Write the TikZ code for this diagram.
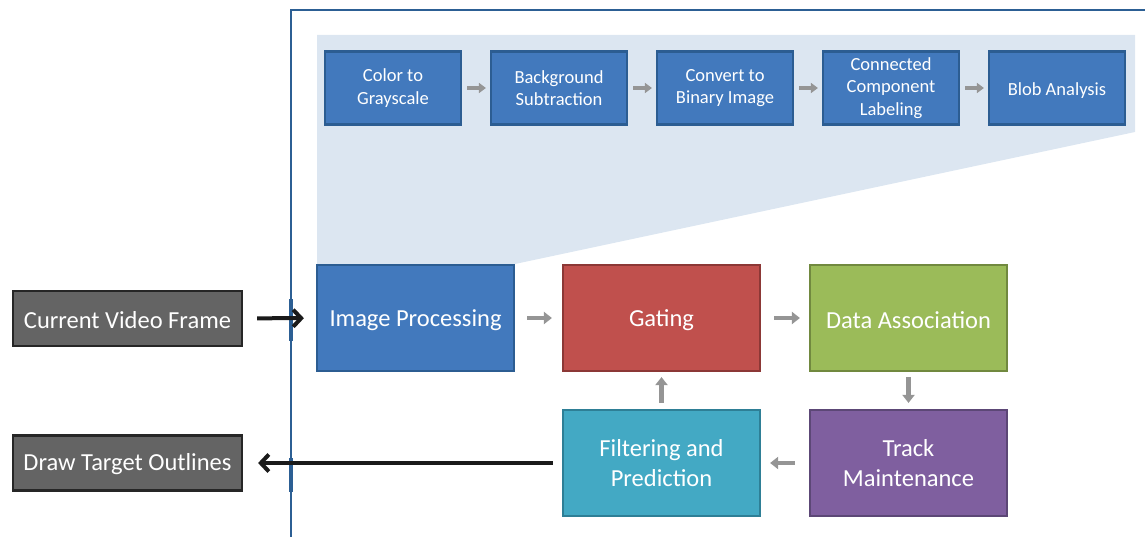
\documentclass[tikz,border=0pt]{standalone}
\usepackage{fontspec}
\setmainfont{Carlito}
\usetikzlibrary{arrows.meta}
\definecolor{frameblue}{HTML}{2C5F94}
\definecolor{regionblue}{HTML}{DCE6F1}
\definecolor{bluefill}{HTML}{4279BD}
\definecolor{blueline}{HTML}{2C5D92}
\definecolor{redfill}{HTML}{C0504D}
\definecolor{redline}{HTML}{8C3836}
\definecolor{greenfill}{HTML}{9BBB59}
\definecolor{greenline}{HTML}{71893F}
\definecolor{purplefill}{HTML}{7F5F9F}
\definecolor{purpleline}{HTML}{5C4776}
\definecolor{cyanfill}{HTML}{43A9C4}
\definecolor{cyanline}{HTML}{2E7F96}
\definecolor{darkfill}{HTML}{646464}
\definecolor{darkline}{HTML}{262626}
\definecolor{greyarrow}{HTML}{959595}
\definecolor{blackarrow}{HTML}{1A1A1A}
\tikzset{
  smallbox/.style={draw=blueline, fill=bluefill, line width=2.2pt, minimum width=136pt, minimum height=73pt,
    text=white, align=center, inner sep=0pt, font=\fontsize{18.5}{22.5}\selectfont,
    execute at begin node={\rule{0pt}{0.94em}}},
  bigbox/.style={line width=2.2pt, minimum width=197pt, minimum height=106pt,
    text=white, align=center, inner sep=0pt, font=\fontsize{24.5}{29.5}\selectfont,
    execute at begin node={\rule{0pt}{0.9em}}},
  sidebox/.style={draw=darkline, fill=darkfill, line width=2.2pt, minimum width=229pt, minimum height=55pt,
    text=white, align=center, inner sep=0pt, font=\fontsize{24.5}{29.5}\selectfont,
    execute at begin node={\rule{0pt}{0.8em}}},
  greyarr/.style={draw=greyarrow, line width=4.5pt, -{Triangle[length=8pt,width=12pt]}},
  smallarr/.style={draw=greyarrow, line width=3.8pt, -{Triangle[length=7pt,width=10pt]}},
  blackarr/.style={draw=blackarrow, line width=4pt, -{Straight Barb[length=8pt,width=17pt,line width=4pt]}},
}
\begin{document}
\begin{tikzpicture}[x=1pt,y=-1pt]
\useasboundingbox (0,0) rectangle (1145,537);
% light region
\fill[regionblue] (317,35) -- (1135,35) -- (1135,132) -- (515,264) -- (317,264) -- cycle;
% frame
\draw[frameblue, line width=2.4pt] (291,545) -- (291,10) -- (1150,10);
\draw[frameblue, line width=4pt] (291,299) -- (291,341);
\draw[frameblue, line width=4pt] (291,458) -- (291,492);
% top boxes
\node[smallbox] (c2g) at (393,88) {Color to\\Grayscale};
\node[smallbox] (bgs) at (559,88) {Background\\Subtraction};
\node[smallbox] (cbi) at (725,88) {Convert to\\Binary Image};
\node[smallbox] (ccl) at (891,88) {Connected\\Component\\Labeling};
\node[smallbox] (blob) at (1057,88) {Blob Analysis};
% main boxes
\node[bigbox, draw=blueline, fill=bluefill] (ip) at (415.5,318) {Image Processing};
\node[bigbox, draw=redline, fill=redfill] (gate) at (661.5,318) {Gating};
\node[bigbox, draw=greenline, fill=greenfill] (da) at (908.5,318) {Data Association};
\node[bigbox, draw=cyanline, fill=cyanfill] (fp) at (661.5,463) {Filtering and\\Prediction};
\node[bigbox, draw=purpleline, fill=purplefill] (tm) at (908.5,463) {Track\\Maintenance};
% side boxes
\node[sidebox] (cvf) at (127.5,318.5) {Current Video Frame};
\node[sidebox] (dto) at (127.5,463) {Draw Target Outlines};
% top arrows
\draw[smallarr, shorten <=5pt, shorten >=4pt] (c2g) -- (bgs);
\draw[smallarr, shorten <=5pt, shorten >=4pt] (bgs) -- (cbi);
\draw[smallarr, shorten <=5pt, shorten >=4pt] (cbi) -- (ccl);
\draw[smallarr, shorten <=5pt, shorten >=4pt] (ccl) -- (blob);
% main arrows
\draw[greyarr, shorten <=12pt, shorten >=10pt] (ip) -- (gate);
\draw[greyarr, shorten <=13pt, shorten >=9pt] (gate) -- (da);
\draw[greyarr, shorten <=5pt, shorten >=6pt] (da) -- (tm);
\draw[greyarr, shorten <=14pt, shorten >=9pt] (tm) -- (fp);
\draw[greyarr, shorten <=6pt, shorten >=5pt] (fp) -- (gate);
% black arrows
\draw[blackarr, shorten <=14pt, shorten >=12pt] (cvf) -- (ip);
\draw[blackarr, shorten <=9pt, shorten >=15pt] (fp) -- (dto);
\end{tikzpicture}
\end{document}
